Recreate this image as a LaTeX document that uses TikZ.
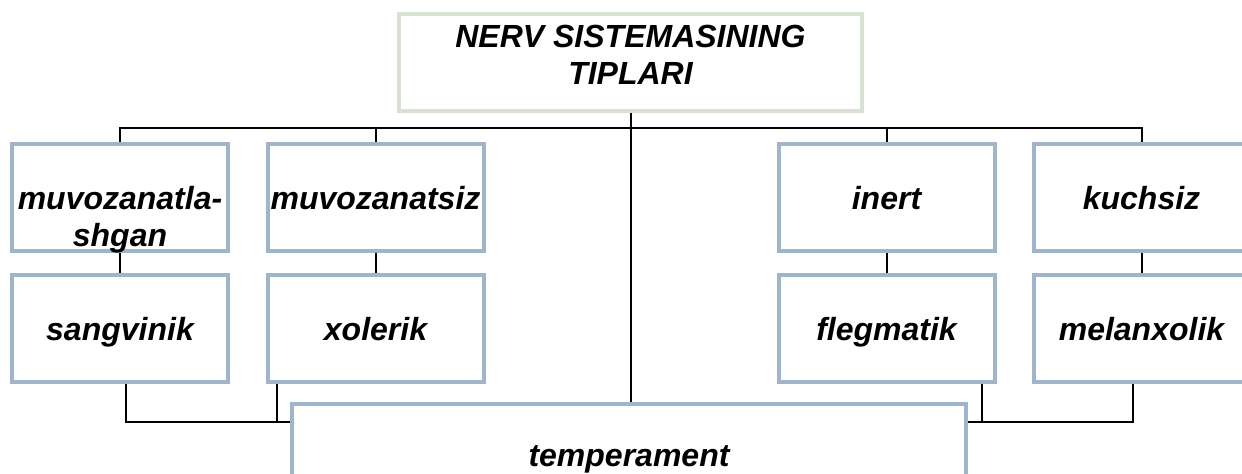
\documentclass[tikz,border=0pt]{standalone}
\usepackage{fontspec}
\setmainfont{Liberation Sans}
\definecolor{TypeBlue}{RGB}{160,180,205}
\definecolor{TypeGreen}{RGB}{214,227,210}
\usepackage{tikz}
\usetikzlibrary{positioning, calc}
\newcommand{\twoline}[2]{\begin{tabular}[t]{@{}c@{}}#1\\#2\end{tabular}}

\begin{document}
\begin{tikzpicture}[x=0.5pt, y=-0.5pt,
  typebox/.style={draw=TypeBlue, line width=2pt, minimum width=108pt, minimum height=53.5pt,
    inner sep=0pt, text height=14pt, text depth=2pt,
    font=\fontsize{16}{18.5}\selectfont\bfseries\itshape},
  link/.style={black, line width=1pt}]
\clip (0,0) rectangle (1242,473);
% head of the scheme
\node[typebox, draw=TypeGreen, minimum width=231.5pt, minimum height=48.5pt] (head) at (630.5,62.5)
  {\raisebox{13.75pt}{\twoline{NERV SISTEMASINING}{TIPLARI}}};
% nervous system types
\node[typebox] (b1) at (120,197.5) {\twoline{muvozanatla-}{shgan}};
\node[typebox] (b2) at (375.5,197.5) {muvozanatsiz};
\node[typebox] (b3) at (886.5,197.5) {inert};
\node[typebox] (b4) at (1141.5,197.5) {kuchsiz};
% temperaments
\node[typebox] (s1) at (120,328) {sangvinik};
\node[typebox] (s2) at (375.5,328) {xolerik};
\node[typebox] (s3) at (886.5,328) {flegmatik};
\node[typebox] (s4) at (1141.5,328) {melanxolik};
\node[typebox, minimum width=337pt, minimum height=50pt] (temp) at (629,454) {temperament};
% connectors
\coordinate (bus) at (630,128);
\coordinate (lowbus) at (0,422);
\draw[link] (head.south) -- (head.south |- temp.north);
\draw[link] (b1.north) |- (b4.north |- bus) -- (b4.north);
\draw[link] (b2.north) -- (b2.north |- bus);
\draw[link] (b3.north) -- (b3.north |- bus);
\draw[link] (b1.south) -- (s1.north);
\draw[link] (b2.south) -- (s2.north);
\draw[link] (b3.south) -- (s3.north);
\draw[link] (b4.south) -- (s4.north);
\draw[link] ([xshift=3pt]s1.south) |- (temp.west |- lowbus);
\draw[link] ([xshift=5.5pt]s2.south west) -- ([xshift=5.5pt]s2.south west |- lowbus);
\draw[link] ([xshift=-7.5pt]s3.south east) -- ([xshift=-7.5pt]s3.south east |- lowbus);
\draw[link] ([xshift=-4.5pt]s4.south) |- (temp.east |- lowbus);
\end{tikzpicture}
\end{document}
